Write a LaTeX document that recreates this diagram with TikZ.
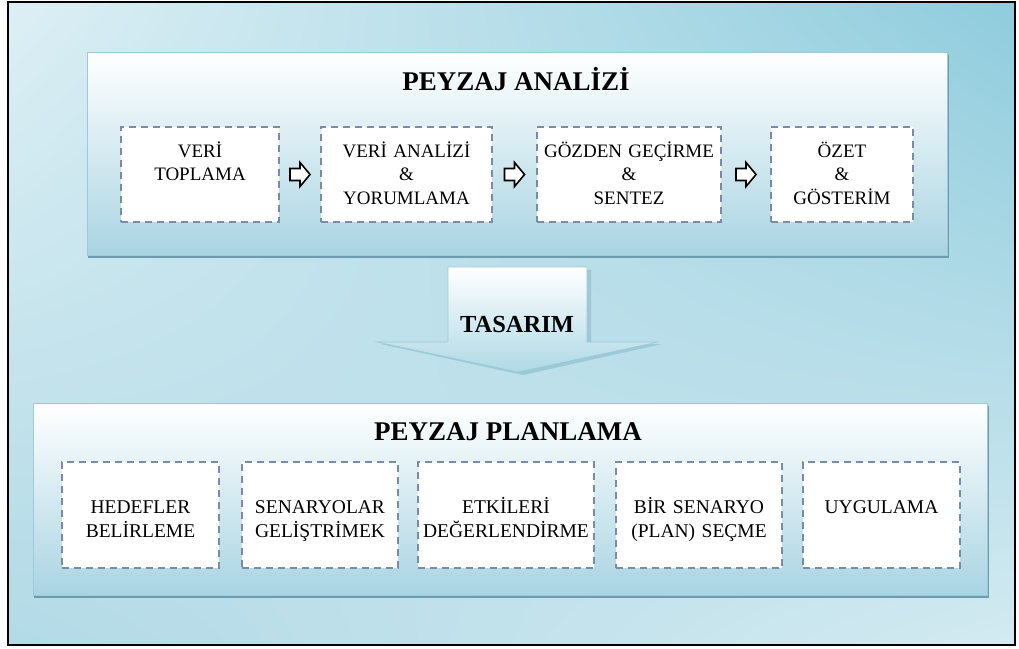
\documentclass[tikz,border=0pt]{standalone}
\usepackage{fontspec}
\setmainfont{Liberation Serif}
\usetikzlibrary{calc,shadings}
\definecolor{zeminUL}{HTML}{DDEFF5}
\definecolor{zeminUR}{HTML}{8FCCDD}
\definecolor{zeminLL}{HTML}{B2DAE6}
\definecolor{zeminLR}{HTML}{D3EAF1}
\definecolor{panelalt}{HTML}{A9D4E2}
\definecolor{golge}{HTML}{6E9BAD}
\definecolor{kesik}{HTML}{7A8BA6}
\definecolor{okmavi}{HTML}{AFD9E6}
\definecolor{okkenar}{HTML}{9CCAD8}
\definecolor{okgolge}{HTML}{9DC8D6}
\begin{document}
\begin{tikzpicture}[x=1pt,y=-1pt,
  adim/.style={draw=kesik, line width=1.8pt, dash pattern=on 7pt off 5pt, fill=white, inner sep=0pt, text width=#1, align=center, font=\fontsize{19}{23.5}\selectfont},
  ustadim/.style={adim=#1, text height=30pt, text depth=65pt},
  altadim/.style={adim=#1, text height=51pt, text depth=55pt, font=\fontsize{19.5}{24}\selectfont},
  baslik/.style={anchor=base, font=\bfseries\fontsize{27}{30}\selectfont},
  blokok/.pic={\draw[line width=1.6pt, fill=white] (-10,-6) -- (0,-6) -- (0,-12) -- (10,0) -- (0,12) -- (0,6) -- (-10,6) -- cycle;}]
\useasboundingbox (0,0) rectangle (1019,648);
\shade[upper left=zeminUL, upper right=zeminUR, lower left=zeminLL, lower right=zeminLR] (9,3) rectangle (1014,644);
\draw[line width=1.5pt] (8,2) rectangle (1015,645);
% peyzaj analizi
\fill[golge] (88,55) rectangle (949,258);
\shade[top color=white, middle color=white, bottom color=panelalt, draw=okkenar, line width=0.4pt] (87,52) rectangle (947,255);
\node[baslik] (analiz) at (516,90) {PEYZAJ ANALİZİ};
\node[ustadim=158pt] (v1) at (200,174.5) {VERİ\\TOPLAMA};
\node[ustadim=171pt] (v2) at (406.5,174.5) {VERİ ANALİZİ\\\&\\YORUMLAMA};
\node[ustadim=184pt] (v3) at (629,174.5) {GÖZDEN GEÇİRME\\\&\\SENTEZ};
\node[ustadim=142pt] (v4) at (842,174.5) {ÖZET\\\&\\GÖSTERİM};
\foreach \a/\b in {v1/v2,v2/v3,v3/v4} \pic at ($(\a.east)!.5!(\b.west)$) {blokok};
% tasarim
\fill[okgolge] (452,270) -- (591,270) -- (591,344) -- (662,344) -- (523,375) -- (381,344) -- (452,344) -- cycle;
\shade[top color=white, bottom color=okmavi, draw=okkenar, line width=0.6pt] (448,267) -- (587,267) -- (587,342) -- (658,342) -- (518,372) -- (377,342) -- (448,342) -- cycle;
\node[baslik, font=\bfseries\fontsize{24.5}{28}\selectfont] (tasarim) at (517,332) {TASARIM};
% peyzaj planlama
\fill[golge] (34,406) rectangle (989,598);
\shade[top color=white, middle color=white, bottom color=panelalt, draw=okkenar, line width=0.4pt] (33,403) rectangle (987,595);
\node[baslik] (planlama) at (508,440) {PEYZAJ PLANLAMA};
\node[altadim=157pt] (p1) at (140.5,515) {HEDEFLER\\BELİRLEME};
\node[altadim=156pt] (p2) at (320,515) {SENARYOLAR\\GELİŞTRİMEK};
\node[altadim=176pt] (p3) at (506,515) {ETKİLERİ\\DEĞERLENDİRME};
\node[altadim=166pt] (p4) at (699,515) {BİR SENARYO\\(PLAN) SEÇME};
\node[altadim=157pt] (p5) at (881.5,515) {UYGULAMA};
\end{tikzpicture}
\end{document}
